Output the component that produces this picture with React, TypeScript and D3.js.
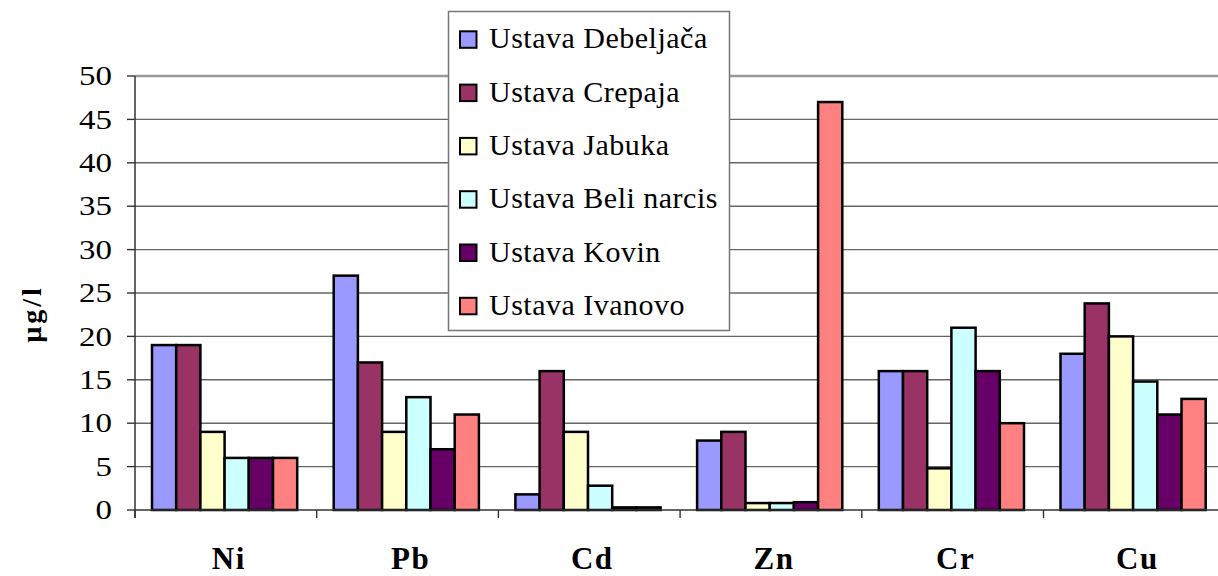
import * as d3 from "d3";
import { useEffect, useRef } from "react";

const categories = ["Ni", "Pb", "Cd", "Zn", "Cr", "Cu"];
const seriesNames = [
  "Ustava Debeljača",
  "Ustava Crepaja",
  "Ustava Jabuka",
  "Ustava Beli narcis",
  "Ustava Kovin",
  "Ustava Ivanovo",
];
const seriesColors = ["#9999FF", "#993366", "#FFFFCC", "#CCFFFF", "#660066", "#FF8080"];

// values per series, in category order Ni, Pb, Cd, Zn, Cr, Cu
const debeljaca = [19, 27, 1.8, 8, 16, 18];
const crepaja = [19, 17, 16, 9, 16, 23.8];
const jabuka = [9, 9, 9, 0.8, 4.8, 20];
const beliNarcis = [6, 13, 2.8, 0.8, 21, 14.8];
const kovin = [6, 7, 0.3, 0.9, 16, 11];
const ivanovo = [6, 11, 0.3, 47, 10, 12.8];

const yTicks = [0, 5, 10, 15, 20, 25, 30, 35, 40, 45, 50];

export default function App() {
  const svgRef = useRef<SVGSVGElement | null>(null);

  useEffect(() => {
    if (!svgRef.current) return;
    const svg = d3.select(svgRef.current);
    svg.selectAll("*").remove();

    const width = 1218;
    const height = 576;
    const font = "Liberation Serif";
    const values = [debeljaca, crepaja, jabuka, beliNarcis, kovin, ivanovo];

    const left = 135;
    const band = 181.7;
    const x = d3
      .scaleBand()
      .domain(categories)
      .range([left, left + band * categories.length])
      .padding(0);

    const barW = 24.2;
    const pad = 17;
    const xs = d3
      .scaleBand()
      .domain(seriesNames)
      .range([pad, pad + barW * seriesNames.length])
      .padding(0);

    const y = d3.scaleLinear().domain([0, 50]).range([510, 76]);

    // gridlines
    svg.append("g")
      .selectAll("line")
      .data(yTicks.filter(t => t > 0))
      .enter()
      .append("line")
      .attr("x1", left)
      .attr("x2", width)
      .attr("y1", d => y(d))
      .attr("y2", d => y(d))
      .attr("stroke", d => (d === 50 ? "#999" : "#666"))
      .attr("stroke-width", d => (d === 50 ? 2.5 : 1.4));

    // bars
    const groups = svg.append("g")
      .selectAll("g")
      .data(categories)
      .enter()
      .append("g")
      .attr("transform", d => `translate(${x(d)},0)`);

    groups.selectAll("rect")
      .data((_, ci) => values.map((s, si) => ({ name: seriesNames[si], v: s[ci], si })))
      .enter()
      .append("rect")
      .attr("x", d => xs(d.name)!)
      .attr("y", d => y(d.v))
      .attr("width", xs.bandwidth())
      .attr("height", d => y(0) - y(d.v))
      .attr("fill", d => seriesColors[d.si])
      .attr("stroke", "#000")
      .attr("stroke-width", 2.5);

    // y axis
    const yAxis = svg.append("g");
    yAxis.append("line")
      .attr("x1", left).attr("x2", left)
      .attr("y1", y(50)).attr("y2", y(0) + 8)
      .attr("stroke", "#333").attr("stroke-width", 1.5);
    yAxis.selectAll("line.tick")
      .data(yTicks)
      .enter()
      .append("line")
      .attr("class", "tick")
      .attr("x1", left - 8).attr("x2", left)
      .attr("y1", d => y(d)).attr("y2", d => y(d))
      .attr("stroke", "#333").attr("stroke-width", 1.4);
    yAxis.selectAll("text")
      .data(yTicks)
      .enter()
      .append("text")
      .attr("transform", d => `translate(112,${y(d)}) scale(1.22,1)`)
      .attr("dy", "0.34em")
      .attr("text-anchor", "end")
      .style("font-family", font)
      .style("font-size", "27px")
      .text(d => d);

    // x axis
    const xAxis = svg.append("g");
    xAxis.append("line")
      .attr("x1", left).attr("x2", width)
      .attr("y1", y(0)).attr("y2", y(0))
      .attr("stroke", "#333").attr("stroke-width", 1.5);
    xAxis.selectAll("line.tick")
      .data(d3.range(categories.length + 1))
      .enter()
      .append("line")
      .attr("class", "tick")
      .attr("x1", i => left + i * band).attr("x2", i => left + i * band)
      .attr("y1", y(0)).attr("y2", y(0) + 8)
      .attr("stroke", "#333").attr("stroke-width", 1.4);
    xAxis.selectAll("text")
      .data(categories)
      .enter()
      .append("text")
      .attr("x", d => x(d)! + band / 2 + 3)
      .attr("y", 569)
      .attr("text-anchor", "middle")
      .style("font-family", font)
      .style("font-weight", "bold")
      .style("font-size", "31px")
      .style("letter-spacing", "1.5px")
      .text(d => d);

    // y title
    svg.append("text")
      .attr("transform", "translate(41,314) rotate(-90)")
      .attr("text-anchor", "middle")
      .style("font-family", font)
      .style("font-weight", "bold")
      .style("font-size", "28px")
      .style("letter-spacing", "3px")
      .text("µg/l");

    // legend
    const legend = svg.append("g");
    legend.append("rect")
      .attr("x", 448.5).attr("y", 11.5)
      .attr("width", 281).attr("height", 319)
      .attr("fill", "#fff")
      .attr("stroke", "#777")
      .attr("stroke-width", 1.5);
    const items = legend.selectAll("g")
      .data(seriesNames)
      .enter()
      .append("g")
      .attr("transform", (_, i) => `translate(0,${48.3 + i * 53.3})`);
    items.append("rect")
      .attr("x", 460).attr("y", -17)
      .attr("width", 16.5).attr("height", 16.5)
      .attr("fill", (_, i) => seriesColors[i])
      .attr("stroke", "#000")
      .attr("stroke-width", 2);
    items.append("text")
      .attr("x", 489)
      .attr("y", 0)
      .style("font-family", font)
      .style("font-size", "30px")
      .style("letter-spacing", "0.5px")
      .text(d => d);

    svg.attr("width", width).attr("height", height);
  }, []);

  return (
    <svg
      ref={svgRef}
      width={1218}
      height={576}
      style={{ position: "absolute", left: 0, top: 0, background: "#fff" }}
    ></svg>
  );
}
